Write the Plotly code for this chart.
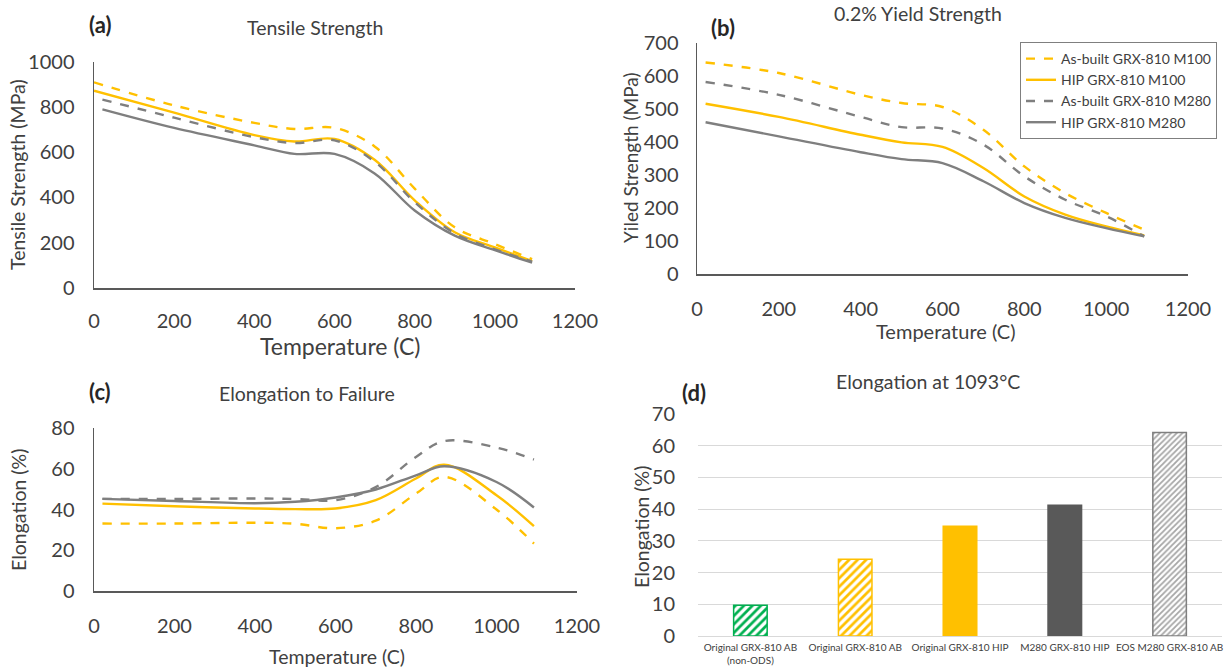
import plotly.graph_objects as go

W, H = 1227, 670

# ---------------- data ----------------
temp_ab = [0, 200, 400, 500, 600, 700, 800, 900, 1000, 1093]
temp = [21, 200, 400, 500, 600, 700, 800, 900, 1000, 1093]

# (a) tensile strength (MPa)
ts_ab_m100 = [908, 806, 729, 702, 707, 625, 439, 268, 194, 127]
ts_hip_m100 = [871, 774, 675, 647, 658, 566, 387, 246, 179, 119]
ts_ab_m280 = [832, 752, 666, 640, 652, 558, 379, 241, 171, 116]
ts_hip_m280 = [789, 707, 630, 592, 592, 506, 342, 231, 167, 112]

# (b) 0.2% yield strength (MPa)
ys_ab_m100 = [641, 609, 543, 518, 506, 437, 326, 245, 185, 134]
ys_hip_m100 = [516, 476, 422, 399, 385, 321, 235, 180, 144, 117]
ys_ab_m280 = [582, 543, 476, 445, 441, 392, 296, 225, 175, 114]
ys_hip_m280 = [460, 417, 369, 348, 336, 281, 215, 170, 139, 114]

# (c) elongation to failure (%)
temp_c = [21, 200, 400, 500, 600, 700, 800, 870, 1000, 1093]
el_ab_m100 = [33.1, 33.1, 33.5, 33.0, 30.8, 34.5, 47.8, 56.0, 40.0, 23.3]
el_hip_m100 = [42.9, 41.6, 40.5, 40.2, 40.5, 44.6, 55.2, 62.0, 47.0, 31.8]
el_ab_m280 = [45.2, 45.2, 45.4, 45.2, 44.6, 51.0, 65.8, 73.6, 70.4, 64.5]
el_hip_m280 = [45.2, 44.2, 43.1, 43.8, 45.9, 49.8, 56.8, 61.2, 53.5, 41.0]

# (d) elongation at 1093 C (%)
d_categories = ["Original GRX-810 AB<br>(non-ODS)", "Original GRX-810 AB",
                "Original GRX-810 HIP", "M280 GRX-810 HIP", "EOS M280 GRX-810 AB"]
d_values = [9.7, 24.2, 34.6, 41.2, 64.2]

series_names = ["As-built GRX-810 M100", "HIP GRX-810 M100",
                "As-built GRX-810 M280", "HIP GRX-810 M280"]

YEL = "#FFC000"
GRY = "#7F7F7F"
styles = [(YEL, "dash"), (YEL, "solid"), (GRY, "dash"), (GRY, "solid")]

FONT = "Lato, 'Open Sans', sans-serif"
TXT = "#404040"
AX = "#595959"

def px(x):
    return x / W

def py(y):
    return 1 - y / H

fig = go.Figure()

panel_a = [(temp_ab, ts_ab_m100), (temp_ab, ts_hip_m100), (temp, ts_ab_m280), (temp, ts_hip_m280)]
panel_b = [(temp, ys_ab_m100), (temp, ys_hip_m100), (temp, ys_ab_m280), (temp, ys_hip_m280)]
panel_c = [(temp_c, el_ab_m100), (temp_c, el_hip_m100), (temp_c, el_ab_m280), (temp_c, el_hip_m280)]

for axn, panel, show in [("", panel_a, False), ("2", panel_b, True), ("3", panel_c, False)]:
    for (xs, ys), name, (col, dash) in zip(panel, series_names, styles):
        fig.add_trace(go.Scatter(
            x=xs, y=ys, mode="lines", name=name, showlegend=show,
            line=dict(color=col, dash=dash, width=2.4, shape="spline", smoothing=1.0),
            xaxis="x" + axn, yaxis="y" + axn, hoverinfo="skip"))

# (d) bars, one trace per bar so each gets its own fill / hatch
bar_fill = ["white", "white", YEL, "#595959", "white"]
bar_fg = ["#00B050", YEL, YEL, "#595959", "#A6A6A6"]
bar_shape = ["/", "/", "", "", "/"]
bar_line = ["#00B050", YEL, YEL, "#595959", "#7F7F7F"]
bar_size = [6, 6, 6, 6, 4]
for i, (cat, val) in enumerate(zip(d_categories, d_values)):
    fig.add_trace(go.Bar(
        x=[cat], y=[val], showlegend=False, xaxis="x4", yaxis="y4", width=0.32,
        marker=dict(
            color=bar_fill[i],
            line=dict(color=bar_line[i], width=1.5),
            pattern=dict(shape=bar_shape[i], fgcolor=bar_fg[i], bgcolor=bar_fill[i],
                         size=bar_size[i], solidity=0.45, fillmode="replace"),
        ),
        hoverinfo="skip"))

TICKF = 20

def line_x(dom_px, tl):
    return dict(domain=[px(dom_px[0]), px(dom_px[1])], range=[0, 1200], dtick=200,
                showline=True, linecolor=AX, linewidth=1.5, showgrid=False, zeroline=False,
                ticks="outside", ticklen=tl, tickcolor="rgba(0,0,0,0)", automargin=False,
                tickfont=dict(size=TICKF, color=TXT, family=FONT), fixedrange=True)

def line_y(dom_px, rng, dt, tl):
    return dict(domain=[py(dom_px[1]), py(dom_px[0])], range=rng, dtick=dt,
                showline=True, linecolor=AX, linewidth=1.5, showgrid=False, zeroline=False,
                ticks="outside", ticklen=tl, tickcolor="rgba(0,0,0,0)", automargin=False,
                tickfont=dict(size=TICKF, color=TXT, family=FONT), fixedrange=True)

fig.update_layout(
    width=W, height=H, margin=dict(l=0, r=0, t=0, b=0, pad=0, autoexpand=False),
    paper_bgcolor="white", plot_bgcolor="white",
    font=dict(family=FONT, color=TXT),
    xaxis=dict(line_x((94, 575), 14), anchor="y"),
    yaxis=dict(line_y((61.5, 288), [0, 1000], 200, 14), anchor="x"),
    xaxis2=dict(line_x((697, 1188), 16), anchor="y2"),
    yaxis2=dict(line_y((43, 274), [0, 700], 100, 13), anchor="x2"),
    xaxis3=dict(line_x((94, 577), 16), anchor="y3"),
    yaxis3=dict(line_y((428, 591), [0, 80], 20, 14), anchor="x3"),
    xaxis4=dict(domain=[px(698), px(1222)], anchor="y4", showline=False, showgrid=False,
                zeroline=False, ticks="outside", ticklen=2, tickcolor="rgba(0,0,0,0)",
                automargin=False,
                tickfont=dict(size=10, color=TXT, family=FONT), fixedrange=True),
    yaxis4=dict(domain=[py(636), py(414)], anchor="x4", range=[0, 70], dtick=10,
                showline=False, showgrid=True, gridcolor="#D9D9D9", gridwidth=1,
                zeroline=True, zerolinecolor="#D9D9D9", zerolinewidth=1,
                ticks="outside", ticklen=18, tickcolor="rgba(0,0,0,0)", automargin=False,
                tickfont=dict(size=TICKF, color=TXT, family=FONT), fixedrange=True),
    barmode="overlay",
    legend=dict(x=px(1020), y=py(42), xanchor="left", yanchor="top",
                bordercolor="#7F7F7F", borderwidth=1, bgcolor="white",
                font=dict(size=14, color=TXT, family=FONT), tracegroupgap=0,
                itemwidth=30),
)

ann = [
    ("<b>(a)</b>", 100, 25, 22, 0),
    ("Tensile Strength", 315, 27, 19.5, 0),
    ("<b>(b)</b>", 723, 27, 22, 0),
    ("0.2% Yield Strength", 918, 13, 19.5, 0),
    ("<b>(c)</b>", 100, 391, 22, 0),
    ("Elongation to Failure", 307, 393, 19.5, 0),
    ("<b>(d)</b>", 694, 392, 22, 0),
    ("Elongation at 1093°C", 928, 381, 19.5, 0),
    ("Temperature (C)", 340, 346, 23, 0),
    ("Temperature (C)", 946, 331, 20, 0),
    ("Temperature (C)", 337, 656, 19.5, 0),
    ("Tensile Strength (MPa)", 18, 175, 19.5, -90),
    ("Yiled Strength (MPa)", 630, 158, 19, -90),
    ("Elongation (%)", 18, 510, 19.5, -90),
    ("Elongation (%)", 641, 527, 19.5, -90),
]
for text, x, y, size, ang in ann:
    fig.add_annotation(text=text, x=px(x), y=py(y), xref="paper", yref="paper",
                       showarrow=False, xanchor="center", yanchor="middle",
                       textangle=ang, font=dict(size=size, color="#262626" if "<b>" in text else TXT,
                                                family=FONT))

fig.write_html(
    "out.html",
    config={"displayModeBar": False, "staticPlot": True},
    post_script="document.body.style.margin='0';document.body.style.padding='0';"
                "document.body.style.overflow='hidden';",
)
